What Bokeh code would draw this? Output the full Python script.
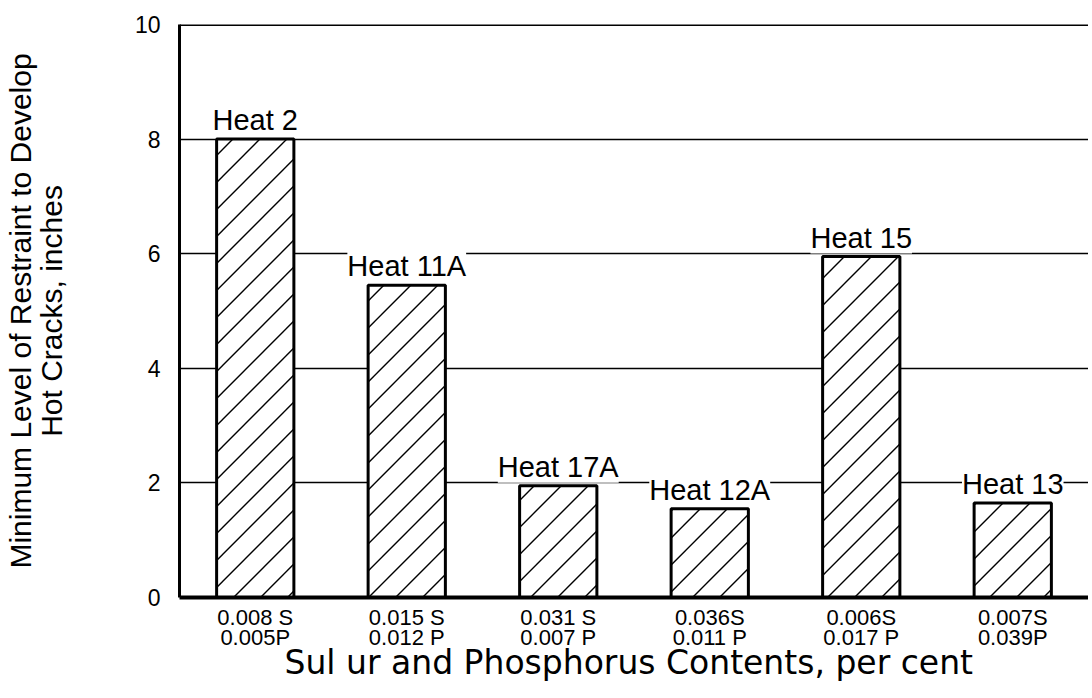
import numpy as np
from bokeh.plotting import figure
from bokeh.models import (ColumnDataSource, LabelSet, FixedTicker, Range1d,
                          FactorRange, Span)
from bokeh.core.properties import value
from bokeh.embed import file_html
from bokeh.resources import INLINE

heats = ["Heat 2", "Heat 11A", "Heat 17A", "Heat 12A", "Heat 15", "Heat 13"]
sulfur = ["0.008 S", "0.015 S", "0.031 S", "0.036S", "0.006S", "0.007S"]
phosphorus = ["0.005P", "0.012 P", "0.007 P", "0.011 P", "0.017 P", "0.039P"]
restraint = [8.0, 5.45, 1.95, 1.55, 5.95, 1.65]
y_ticks = [0, 2, 4, 6, 8, 10]
y_label = "Minimum Level of Restraint to Develop\nHot Cracks, inches"
x_label = "Sul ur and Phosphorus  Contents, per cent"

cats = [f"{s}\n{ph}" for s, ph in zip(sulfur, phosphorus)]
src = ColumnDataSource(dict(cat=cats, top=restraint, heat=heats))

SANS = "Liberation Sans"
WIDTH, HEIGHT = 1088, 696
BL, BT, BB = 179, 24, 99
BAR_W = 0.51
Y_MAX = 10

p = figure(x_range=FactorRange(*cats), y_range=Range1d(0, Y_MAX),
           width=WIDTH, height=HEIGHT, output_backend="svg", toolbar_location=None,
           min_border_left=BL, min_border_right=0, min_border_top=BT,
           min_border_bottom=BB)
p.outline_line_color = None
p.background_fill_color = "white"

# white bar bodies
p.vbar(x="cat", top="top", width=BAR_W, source=src, fill_color="white",
       line_color=None)

# 45-degree hatch lines inside each bar, derived from the bar values
frame_w = WIDTH - BL
frame_h = HEIGHT - BT - BB
px_x = frame_w / len(cats)      # pixels per factor unit
px_y = frame_h / Y_MAX          # pixels per y unit
gap = 27                        # hatch spacing (px)
hx0, hy0, hx1, hy1 = [], [], [], []
for i, t in enumerate(restraint):
    L = (i + 0.5 - BAR_W / 2) * px_x
    R = (i + 0.5 + BAR_W / 2) * px_x
    T = t * px_y
    for k in range(int(np.floor(-R / gap)) - 1, int(np.ceil((T - L) / gap)) + 2):
        b = k * gap
        pts = []
        for (x, y) in [(L, L + b), (R, R + b), (-b, 0.0), (T - b, T)]:
            if L - 1e-6 <= x <= R + 1e-6 and -1e-6 <= y <= T + 1e-6:
                pts.append((x, y))
        if len(pts) >= 2:
            pts.sort()
            (xa, ya), (xb, yb) = pts[0], pts[-1]
            if xb - xa > 1:
                hx0.append(xa / px_x); hy0.append(ya / px_y)
                hx1.append(xb / px_x); hy1.append(yb / px_y)
p.segment(x0=hx0, y0=hy0, x1=hx1, y1=hy1, line_color="black", line_width=1.4)

# bar outlines
p.vbar(x="cat", top="top", width=BAR_W, source=src, fill_color=None,
       line_color="black", line_width=3)

p.xgrid.visible = False
p.ygrid.ticker = FixedTicker(ticks=[2, 4, 6, 8])
p.ygrid.grid_line_color = "black"
p.ygrid.grid_line_width = 1.7

p.add_layout(Span(location=Y_MAX, dimension="width", line_color="black", line_width=3))

labels = LabelSet(x="cat", y="top", text="heat", source=src, text_align="center",
                  text_baseline="alphabetic", y_offset=9,
                  background_fill_color="white", text_font=value(SANS),
                  text_font_size=value("29px"), text_color="black")
p.add_layout(labels)

# y axis
p.yaxis.ticker = FixedTicker(ticks=y_ticks)
p.yaxis.axis_line_width = 3
p.yaxis.axis_line_color = "black"
p.yaxis.major_tick_line_color = None
p.yaxis.minor_tick_line_color = None
p.yaxis.major_label_text_font = SANS
p.yaxis.major_label_text_font_size = "23px"
p.yaxis.major_label_text_color = "black"
p.yaxis.major_label_standoff = 13
p.yaxis.axis_label = y_label
p.yaxis.axis_label_text_font = SANS
p.yaxis.axis_label_text_font_size = "30px"
p.yaxis.axis_label_text_font_style = "normal"
p.yaxis.axis_label_text_color = "black"
p.yaxis.axis_label_text_line_height = 0.95
p.yaxis.axis_label_standoff = 64

# x axis
p.xaxis.axis_line_width = 4
p.xaxis.axis_line_color = "black"
p.xaxis.major_tick_line_color = None
p.xaxis.minor_tick_line_color = None
p.xaxis.major_label_text_font = SANS
p.xaxis.major_label_text_font_size = "22px"
p.xaxis.major_label_text_line_height = 0.8
p.xaxis.major_label_text_color = "black"
p.xaxis.major_label_standoff = 1
p.xaxis.axis_label = x_label
p.xaxis.axis_label_text_font = "DejaVu Sans"
p.xaxis.axis_label_text_font_size = "33px"
p.xaxis.axis_label_text_font_style = "normal"
p.xaxis.axis_label_text_color = "black"
p.xaxis.axis_label_standoff = -10

open("out.html", "w").write(file_html(p, INLINE))
